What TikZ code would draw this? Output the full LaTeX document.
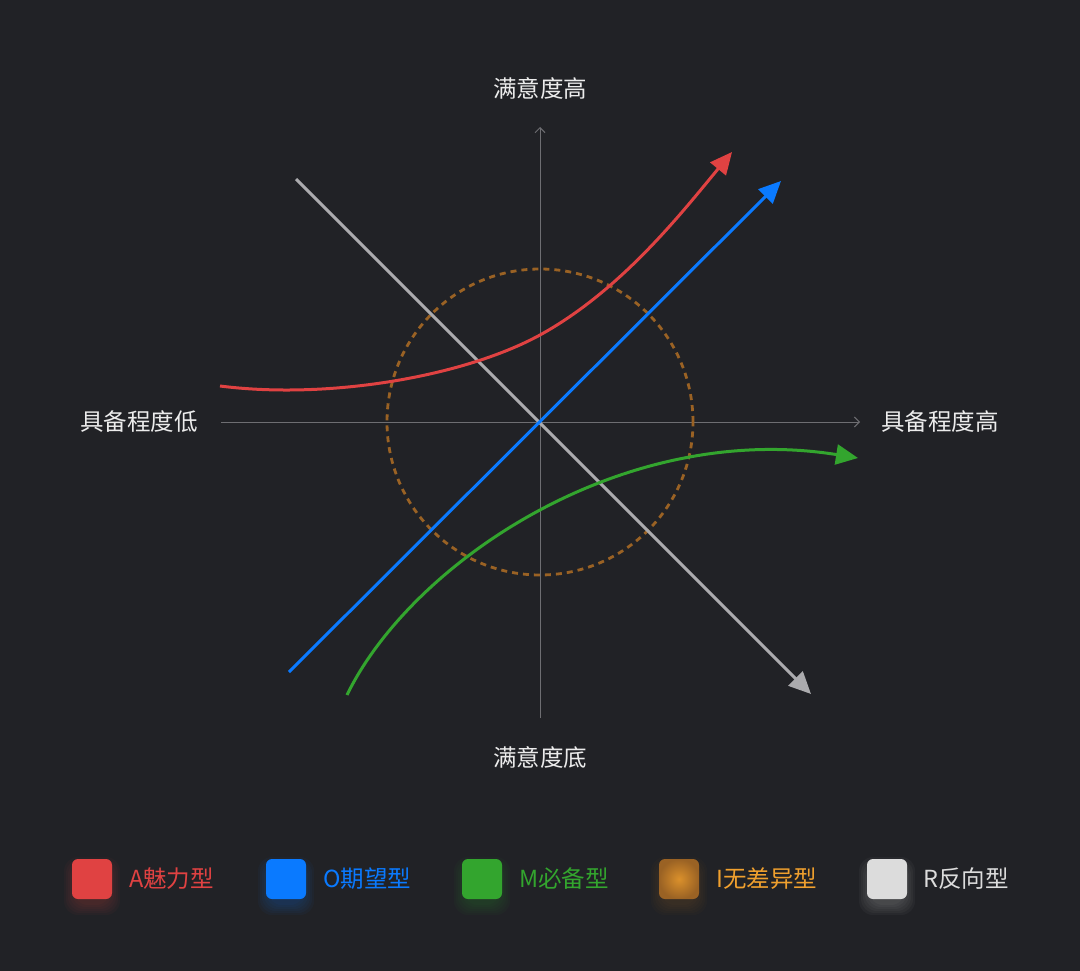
\documentclass[tikz,border=0pt]{standalone}
\usepackage{fontspec}
\setmainfont{Noto Sans CJK SC}
\usetikzlibrary{arrows.meta}
\definecolor{bg}{HTML}{212226}
\definecolor{axisc}{HTML}{6E6E72}
\definecolor{cred}{HTML}{E04242}
\definecolor{cblue}{HTML}{0A7AFF}
\definecolor{cgreen}{HTML}{33A52E}
\definecolor{cbrown}{HTML}{9A6224}
\definecolor{corange}{HTML}{F0A02E}
\definecolor{cgray}{HTML}{ABABAE}
\definecolor{cwhite}{HTML}{DCDCDC}
\definecolor{ctext}{HTML}{ECECEC}
\tikzset{
  axisline/.style={draw=axisc, line width=1pt, -{Straight Barb[length=5pt,width=10pt,line width=1pt]}},
  curve/.style={line width=3pt, -{Triangle[length=22pt,width=20pt,fill=#1]}, draw=#1},
  axlabel/.style={text=ctext, font=\fontsize{23.5}{26}\selectfont, inner sep=0pt},
  legbox/.style={rounded corners=6pt, minimum width=40pt, minimum height=40pt, inner sep=0pt},
  legtext/.style={font=\fontsize{23.5}{26}\selectfont, anchor=west, inner sep=0pt},
}
\begin{document}
\begin{tikzpicture}[x=1pt,y=-1pt]
\fill[bg] (0,0) rectangle (1080,971);
\useasboundingbox (0,0) rectangle (1080,971);
% coordinates
\coordinate (O) at (540,422);
\coordinate (xl) at (221,422);
\coordinate (xr) at (860,422);
\coordinate (yt) at (540,127);
\coordinate (yb) at (540,718);
% axes
\draw[axisline] (xl) -- (xr);
\draw[axisline] (yb) -- (yt);
% dashed circle
\node (circ) [draw=cbrown, line width=2.8pt, dash pattern=on 6pt off 5pt, circle, minimum size=306pt, inner sep=0pt] at (O) {};
% gray R line
\coordinate (g0) at (296,179);
\coordinate (g1) at (811,694);
\draw[curve=cgray] (g0) -- (g1);
% blue O line
\coordinate (b0) at (289,672);
\coordinate (b1) at (781,181);
\draw[curve=cblue] (b0) -- (b1);
% red A curve
\coordinate (r0) at (220,386);
\coordinate (rm) at (540,335);
\coordinate (r1) at (732,152);
\draw[curve=cred] (r0) .. controls (330,400) and (465,376) .. (rm)
  .. controls (620,291) and (680,215) .. (r1);
% green M curve
\coordinate (m0) at (347,695);
\coordinate (m1) at (858,458);
\draw[curve=cgreen] (m0) .. controls (410,565) and (620,420) .. (m1);
% axis labels
\node[axlabel] (top) at (540,88) {满意度高};
\node[axlabel] (bot) at (540,758) {满意度底};
\node[axlabel] (lft) at (139,422) {具备程度低};
\node[axlabel] (rgt) at (940,422) {具备程度高};
% legend glows
\foreach \cx/\cc in {92/cred,286/cblue,482/cgreen,679/cbrown,887/cwhite}{
  \foreach \s in {2,4,6,8,10,12}{
    \fill[\cc, opacity=0.04, rounded corners=14pt] (\cx-20-\s+4,879-20-\s+10) rectangle (\cx+20+\s-4,879+20+\s+4);
  }
}
% legend boxes
\node[legbox, fill=cred] (la) at (92,879) {};
\node[legbox, fill=cblue] (lo) at (286,879) {};
\node[legbox, fill=cgreen] (lm) at (482,879) {};
\node[legbox, inner color=corange!75!cbrown, outer color=cbrown] (li) at (679,879) {};
\node[legbox, fill=cwhite] (lr) at (887,879) {};
\node[legtext, text=cred] (ta) at (129,879) {A魅力型};
\node[legtext, text=cblue] (to) at (323,879) {O期望型};
\node[legtext, text=cgreen] (tm) at (519,879) {M必备型};
\node[legtext, text=corange] (ti) at (716,879) {I无差异型};
\node[legtext, text=cwhite] (tr) at (923,879) {R反向型};
\end{tikzpicture}
\end{document}
